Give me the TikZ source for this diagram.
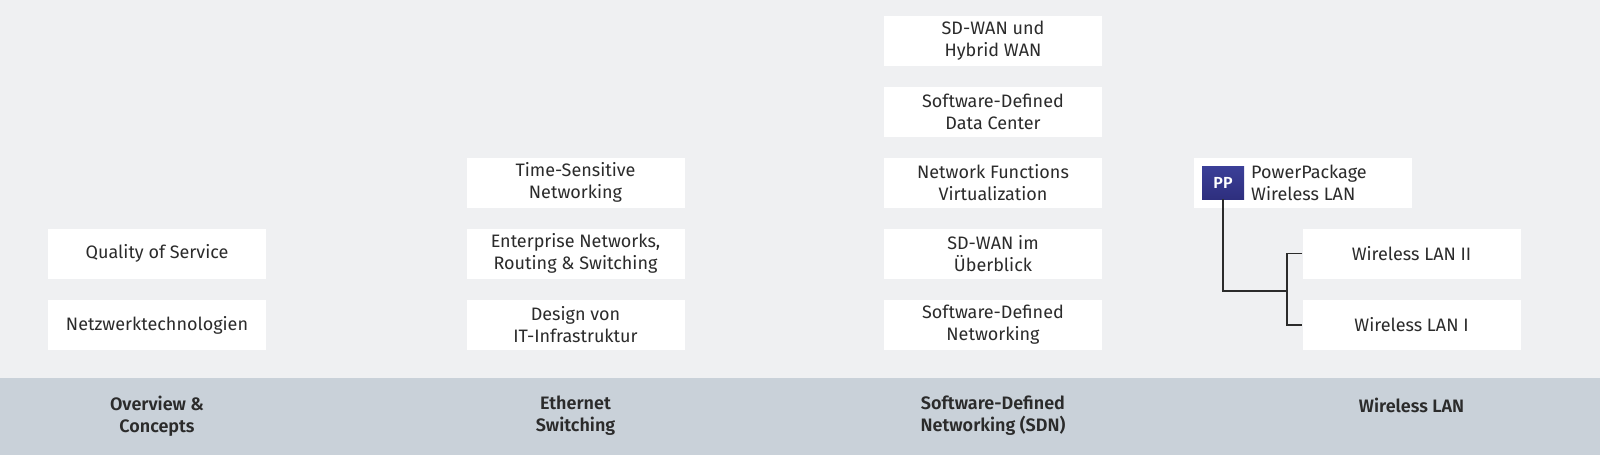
\documentclass[tikz,border=0pt]{standalone}
\usepackage{fontspec}
\setmainfont{Fira Sans}[BoldFont={Fira Sans SemiBold}]
\definecolor{bgc}{HTML}{EFF0F2}
\definecolor{band}{HTML}{C9D1D9}
\definecolor{txt}{HTML}{2B2B2B}
\definecolor{ppc}{HTML}{3B3F98}
\definecolor{ppd}{HTML}{2E2F7E}
\begin{document}
\begin{tikzpicture}[x=1pt,y=-1pt,
  box/.style={fill=white,minimum width=218pt,minimum height=50pt,align=center,font=\fontsize{18}{22}\selectfont,text=txt,inner sep=0pt},
  cat/.style={align=center,font=\bfseries\fontsize{18}{22}\selectfont,text=txt},
  conn/.style={draw=txt,line width=1.2pt}]
\fill[bgc] (0,0) rectangle (1600,455);
\fill[band] (0,378) rectangle (1600,455);
% column 1
\node[box] (qos) at (157,253.5) {Quality of Service};
\node[box] (nt) at (157,325) {Netzwerktechnologien};
\node[cat] (c1) at (157,416) {Overview \&\\Concepts};
% column 2
\node[box] (tsn) at (575.5,182.5) {Time-Sensitive\\Networking};
\node[box] (ent) at (575.5,253.5) {Enterprise Networks,\\Routing \& Switching};
\node[box] (des) at (575.5,325) {Design von\\IT-Infrastruktur};
\node[cat] (c2) at (575.5,416) {Ethernet\\Switching};
% column 3
\node[box] (sdw) at (993,40.5) {SD-WAN und\\Hybrid WAN};
\node[box] (sddc) at (993,111.5) {Software-Defined\\Data Center};
\node[box] (nfv) at (993,182.5) {Network Functions\\Virtualization};
\node[box] (sdwu) at (993,253.5) {SD-WAN im\\Überblick};
\node[box] (sdn) at (993,325) {Software-Defined\\Networking};
\node[cat] (c3) at (993,416) {Software-Defined\\Networking (SDN)};
% column 4
\node[box] (pp) at (1303,182.5) {};
\node[top color=ppc,bottom color=ppd,minimum width=42pt,minimum height=33pt,inner sep=0pt,text=white,font=\bfseries\fontsize{16}{18}\selectfont] (ppi) at (1223,182.5) {PP};
\node[anchor=west,align=left,font=\fontsize{18}{22}\selectfont,text=txt,inner sep=0pt] (ppt) at (1251,182.5) {PowerPackage\\Wireless LAN};
\node[box] (wl2) at (1411.5,253.5) {Wireless LAN II};
\node[box] (wl1) at (1411.5,325) {Wireless LAN I};
\node[cat] (c4) at (1411.5,405) {Wireless LAN};
\coordinate (j) at (1287,291);
\draw[conn] (ppi.south) |- (j);
\draw[conn] (wl2.west) -| (j) |- (wl1.west);
\end{tikzpicture}
\end{document}
